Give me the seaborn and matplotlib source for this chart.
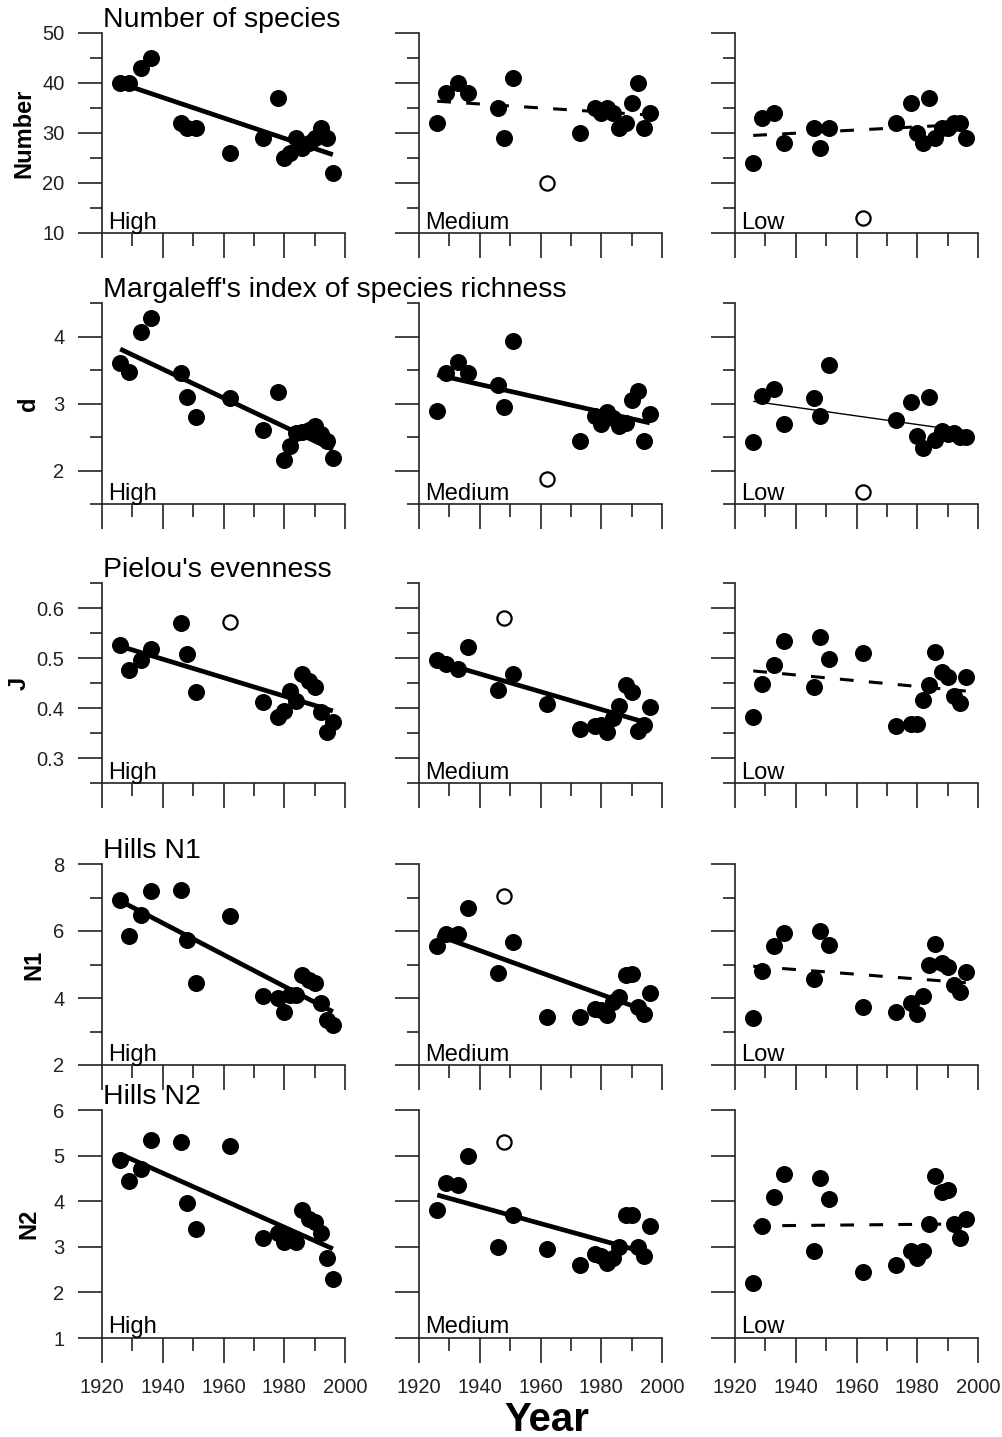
import matplotlib

matplotlib.use("Agg")
import matplotlib.pyplot as plt
from matplotlib.ticker import FixedLocator, NullFormatter
import pandas as pd
import seaborn as sns


# sampling years, shared by every panel
YEARS = [1926, 1929, 1933, 1936, 1946, 1948, 1951, 1962, 1973, 1978,
         1980, 1982, 1984, 1986, 1988, 1990, 1992, 1994, 1996]

SITES = ["High", "Medium", "Low"]

NUMBER_HIGH = [40, 40, 43, 45, 32, 31, 31, 26, 29, 37, 25, 26, 29, 27, 28, 29, 31, 29, 22]
NUMBER_MEDIUM = [32, 38, 40, 38, 35, 29, 41, 20, 30, 35, 34, 35, 34, 31, 32, 36, 40, 31, 34]
NUMBER_LOW = [24, 33, 34, 28, 31, 27, 31, 13, 32, 36, 30, 28, 37, 29, 31, 31, 32, 32, 29]

D_HIGH = [3.60, 3.47, 4.07, 4.27, 3.45, 3.10, 2.80, 3.08, 2.61, 3.17,
          2.15, 2.36, 2.56, 2.57, 2.60, 2.67, 2.55, 2.44, 2.19]
D_MEDIUM = [2.89, 3.45, 3.62, 3.46, 3.28, 2.95, 3.94, 1.88, 2.44, 2.81,
            2.70, 2.87, 2.78, 2.66, 2.71, 3.05, 3.18, 2.44, 2.85]
D_LOW = [2.42, 3.11, 3.22, 2.70, 3.08, 2.81, 3.58, 1.68, 2.76, 3.02,
         2.52, 2.34, 3.10, 2.46, 2.59, 2.55, 2.56, 2.50, 2.50]

J_HIGH = [0.526, 0.477, 0.496, 0.518, 0.570, 0.508, 0.432, 0.573, 0.413, 0.382,
          0.395, 0.435, 0.415, 0.469, 0.455, 0.442, 0.392, 0.352, 0.372]
J_MEDIUM = [0.496, 0.488, 0.479, 0.523, 0.437, 0.580, 0.468, 0.409, 0.358, 0.365,
            0.366, 0.352, 0.380, 0.405, 0.446, 0.432, 0.355, 0.366, 0.403]
J_LOW = [0.383, 0.449, 0.486, 0.535, 0.442, 0.543, 0.499, 0.511, 0.365, 0.369,
         0.369, 0.417, 0.446, 0.513, 0.472, 0.463, 0.425, 0.410, 0.463]

N1_HIGH = [6.93, 5.86, 6.48, 7.18, 7.21, 5.72, 4.44, 6.45, 4.06, 4.00,
           3.59, 4.10, 4.10, 4.69, 4.55, 4.45, 3.86, 3.35, 3.20]
N1_MEDIUM = [5.56, 5.92, 5.92, 6.68, 4.74, 7.05, 5.66, 3.42, 3.42, 3.66,
             3.65, 3.50, 3.89, 4.04, 4.69, 4.72, 3.74, 3.53, 4.16]
N1_LOW = [3.39, 4.82, 5.56, 5.94, 4.56, 6.00, 5.59, 3.72, 3.59, 3.84,
          3.52, 4.05, 5.00, 5.62, 5.03, 4.93, 4.39, 4.18, 4.79]

N2_HIGH = [4.90, 4.45, 4.70, 5.35, 5.30, 3.97, 3.38, 5.22, 3.20, 3.30,
           3.10, 3.20, 3.10, 3.80, 3.60, 3.55, 3.30, 2.75, 2.30]
N2_MEDIUM = [3.80, 4.40, 4.35, 5.00, 3.00, 5.30, 3.70, 2.95, 2.60, 2.85,
             2.80, 2.65, 2.75, 3.00, 3.70, 3.70, 3.00, 2.80, 3.45]
N2_LOW = [2.20, 3.45, 4.10, 4.60, 2.90, 4.50, 4.05, 2.45, 2.60, 2.90,
          2.75, 2.90, 3.50, 4.55, 4.20, 4.25, 3.50, 3.20, 3.60]

# year of the point left out of the fit (open circle), per site
NUMBER_OPEN = [None, 1962, 1962]
D_OPEN = [None, 1962, 1962]
J_OPEN = [1962, 1948, None]
N1_OPEN = [None, 1948, None]
N2_OPEN = [None, 1948, None]

TITLES = ["Number of species", "Margaleff's index of species richness",
          "Pielou's evenness", "Hills N1", "Hills N2"]
YLABELS = ["Number", "d", "J", "N1", "N2"]

ROWS = [
    ([NUMBER_HIGH, NUMBER_MEDIUM, NUMBER_LOW], NUMBER_OPEN),
    ([D_HIGH, D_MEDIUM, D_LOW], D_OPEN),
    ([J_HIGH, J_MEDIUM, J_LOW], J_OPEN),
    ([N1_HIGH, N1_MEDIUM, N1_LOW], N1_OPEN),
    ([N2_HIGH, N2_MEDIUM, N2_LOW], N2_OPEN),
]

# axis settings: limits, major ticks, minor ticks
Y_AXES = [
    ((10, 50), [10, 20, 30, 40, 50], [15, 25, 35, 45]),
    ((1.5, 4.5), [2, 3, 4], [1.5, 2.5, 3.5, 4.5]),
    ((0.25, 0.65), [0.3, 0.4, 0.5, 0.6], [0.25, 0.35, 0.45, 0.55, 0.65]),
    ((2, 8), [2, 4, 6, 8], [3, 5, 7]),
    ((1, 6), [1, 2, 3, 4, 5, 6], []),
]

FIT_STYLE = [
    ["thick", "dashed", "dashed"],
    ["thick", "thick", "thin"],
    ["thick", "thick", "dashed"],
    ["thick", "thick", "dashed"],
    ["thick", "thick", "dashed"],
]
LINE_KWS = {
    "thick": dict(lw=3.4, ls="-"),
    "thin": dict(lw=1.0, ls="-"),
    "dashed": dict(lw=2.2, ls=(0, (4.5, 5))),
}

W, H = 1003, 1437
COL_LEFT = [102, 419, 735]
COL_WIDTH = 243
ROW_PX = [(33, 233), (303, 504), (583, 783), (864, 1065), (1110, 1338)]
YLABEL_X = [-0.274, -0.254, -0.294, -0.234, -0.254]

INK = "#222222"


def style_plot():
    sns.set_theme(style="ticks")
    plt.rcParams.update({
        "font.family": ["Liberation Sans", "DejaVu Sans"],
        "axes.edgecolor": INK,
        "axes.linewidth": 1.2,
        "xtick.color": INK,
        "ytick.color": INK,
        "text.color": "black",
        "axes.labelcolor": "black",
    })


def draw_panel(ax, values, open_year, style, row, col):
    data = pd.DataFrame({"Year": YEARS, "Value": values})
    fit = data[data["Year"] != open_year]
    sns.regplot(
        data=fit, x="Year", y="Value", ax=ax, ci=None, truncate=True, color="black",
        scatter_kws=dict(s=150, alpha=1, linewidths=0, zorder=3, clip_on=False),
        line_kws=dict(LINE_KWS[style], zorder=4, solid_capstyle="butt"),
    )
    if open_year is not None:
        sns.scatterplot(
            data=data[data["Year"] == open_year], x="Year", y="Value", ax=ax,
            s=105, facecolor="white", edgecolor="black", linewidth=1.6, zorder=3,
        )

    (lo, hi), major, minor = Y_AXES[row]
    ax.set_xlim(1920, 2000)
    ax.set_ylim(lo, hi)
    ax.xaxis.set_major_locator(FixedLocator([1920, 1940, 1960, 1980, 2000]))
    ax.xaxis.set_minor_locator(FixedLocator([1930, 1950, 1970, 1990]))
    ax.yaxis.set_major_locator(FixedLocator(major))
    ax.yaxis.set_minor_locator(FixedLocator(minor))
    ax.tick_params(axis="y", which="major", length=17, width=1.2, pad=10, labelsize=14.5)
    ax.tick_params(axis="y", which="minor", length=9, width=1.2)
    ax.tick_params(axis="x", which="major", length=18, width=1.2, pad=11, labelsize=14.5)
    ax.tick_params(axis="x", which="minor", length=9, width=1.2)
    sns.despine(ax=ax)

    if col > 0:
        ax.yaxis.set_major_formatter(NullFormatter())
        ax.set_ylabel("")
    else:
        ax.set_ylabel(YLABELS[row], fontsize=17, fontweight="bold")
        ax.yaxis.set_label_coords(YLABEL_X[row], 0.5)
    if row < 4:
        ax.xaxis.set_major_formatter(NullFormatter())
    ax.set_xlabel("")

    ax.text(0.025, 0.02, SITES[col], transform=ax.transAxes, fontsize=17,
            ha="left", va="baseline")
    if col == 0:
        top, bottom = ROW_PX[row]
        ax.text(0.005, 1 + 6 / (bottom - top), TITLES[row], transform=ax.transAxes,
                fontsize=20.5, ha="left", va="baseline")


def main():
    style_plot()
    fig = plt.figure(figsize=(W / 100, H / 100), dpi=100)
    for row, (series, opens) in enumerate(ROWS):
        top, bottom = ROW_PX[row]
        for col in range(3):
            ax = fig.add_axes([COL_LEFT[col] / W, (H - bottom) / H,
                               COL_WIDTH / W, (bottom - top) / H])
            draw_panel(ax, series[col], opens[col], FIT_STYLE[row][col], row, col)

    fig.text(0.545, (H - 1420) / H, "Year", fontsize=29, fontweight="bold",
             ha="center", va="center")
    fig.savefig("out.png", dpi=100, facecolor="white")
    plt.close(fig)


if __name__ == "__main__":
    main()
